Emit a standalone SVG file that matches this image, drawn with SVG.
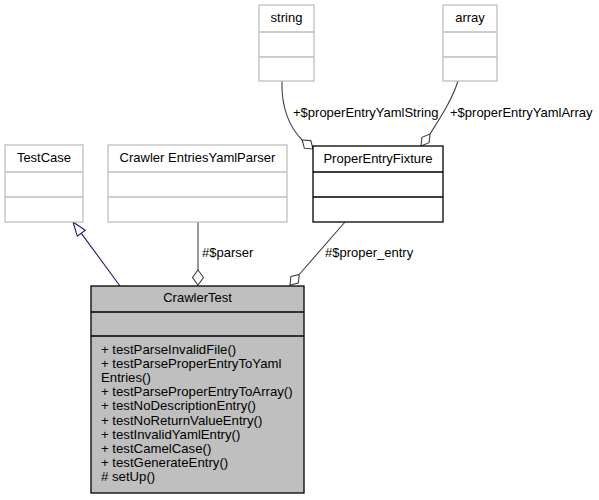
<svg xmlns="http://www.w3.org/2000/svg" width="599" height="500" viewBox="0 0 599 500">
<style>
text{font-family:"Liberation Sans",Arial,sans-serif;font-size:13px;fill:#000}
.c{text-anchor:middle}
.m{font-size:13.2px}
.ext{fill:#fff;stroke:#bfbfbf;stroke-width:1.3}
.int{fill:#fff;stroke:#000;stroke-width:1.3}
.main{fill:#bfbfbf;stroke:#000;stroke-width:1.3}
.agg{fill:none;stroke:#404040;stroke-width:1.1}
.dia{fill:#fff;stroke:#404040;stroke-width:1.1}
.inh{fill:none;stroke:#191970;stroke-width:1.1}
.tri{fill:#fff;stroke:#191970;stroke-width:1.1}
</style>
<rect width="599" height="500" fill="#fff"/>
<g id="connectors">
<path class="inh" d="M120,286 L81.3,233.3"/>
<polygon class="tri" points="73,222 85.3,230.3 77.3,236.2"/>
<path class="agg" d="M198,222 L198,270"/>
<polygon class="dia" points="198,270 203.5,277.5 198,285 192.5,277.5"/>
<path class="agg" d="M345,222 L299.2,274.5"/>
<polygon class="dia" points="299.2,274.5 298.4,283.1 290,285 290.9,276.5"/>
<path class="agg" d="M282,81 C281,108 290,128 302.2,140"/>
<polygon class="dia" points="302.2,140 310.8,140.6 313,149 304.4,148.3"/>
<path class="agg" d="M458,81 C452,100 440,118 430,134"/>
<polygon class="dia" points="430,134 429.1,142.7 421,146 421.9,137.3"/>
<text x="202" y="257">#$parser</text>
<text x="325" y="257">#$proper_entry</text>
<text x="293" y="117">+$properEntryYamlString</text>
<text x="450" y="117">+$properEntryYamlArray</text>
</g>
<g id="TestCase">
<rect class="ext" x="5" y="145" width="78" height="77"/>
<path class="ext" d="M5,172 H83 M5,197 H83"/>
<text class="c" x="44" y="162">TestCase</text>
</g>
<g id="CrawlerEntriesYamlParser">
<rect class="ext" x="108" y="145" width="179" height="77"/>
<path class="ext" d="M108,172 H287 M108,197 H287"/>
<text class="c" x="197.5" y="162">Crawler EntriesYamlParser</text>
</g>
<g id="string">
<rect class="ext" x="259" y="5" width="55" height="76"/>
<path class="ext" d="M259,32 H314 M259,57 H314"/>
<text class="c" x="286.5" y="22">string</text>
</g>
<g id="array">
<rect class="ext" x="443" y="5" width="54" height="76"/>
<path class="ext" d="M443,32 H497 M443,57 H497"/>
<text class="c" x="470" y="22">array</text>
</g>
<g id="ProperEntryFixture">
<rect class="int" x="313" y="146" width="130" height="76"/>
<path class="int" d="M313,172 H443 M313,197 H443"/>
<text class="c" x="378" y="163">ProperEntryFixture</text>
</g>
<g id="CrawlerTest">
<rect class="main" x="91" y="286" width="213" height="207"/>
<path class="main" d="M91,312 H304 M91,336 H304"/>
<text class="c" x="197.5" y="302">CrawlerTest</text>
<text class="m" x="101" y="354">+ testParseInvalidFile()</text>
<text class="m" x="101" y="368.1">+ testParseProperEntryToYaml</text>
<text class="m" x="101" y="382.2">Entries()</text>
<text class="m" x="101" y="396.3">+ testParseProperEntryToArray()</text>
<text class="m" x="101" y="410.4">+ testNoDescriptionEntry()</text>
<text class="m" x="101" y="424.5">+ testNoReturnValueEntry()</text>
<text class="m" x="101" y="438.6">+ testInvalidYamlEntry()</text>
<text class="m" x="101" y="452.7">+ testCamelCase()</text>
<text class="m" x="101" y="466.8">+ testGenerateEntry()</text>
<text class="m" x="101" y="481"># setUp()</text>
</g>
</svg>
